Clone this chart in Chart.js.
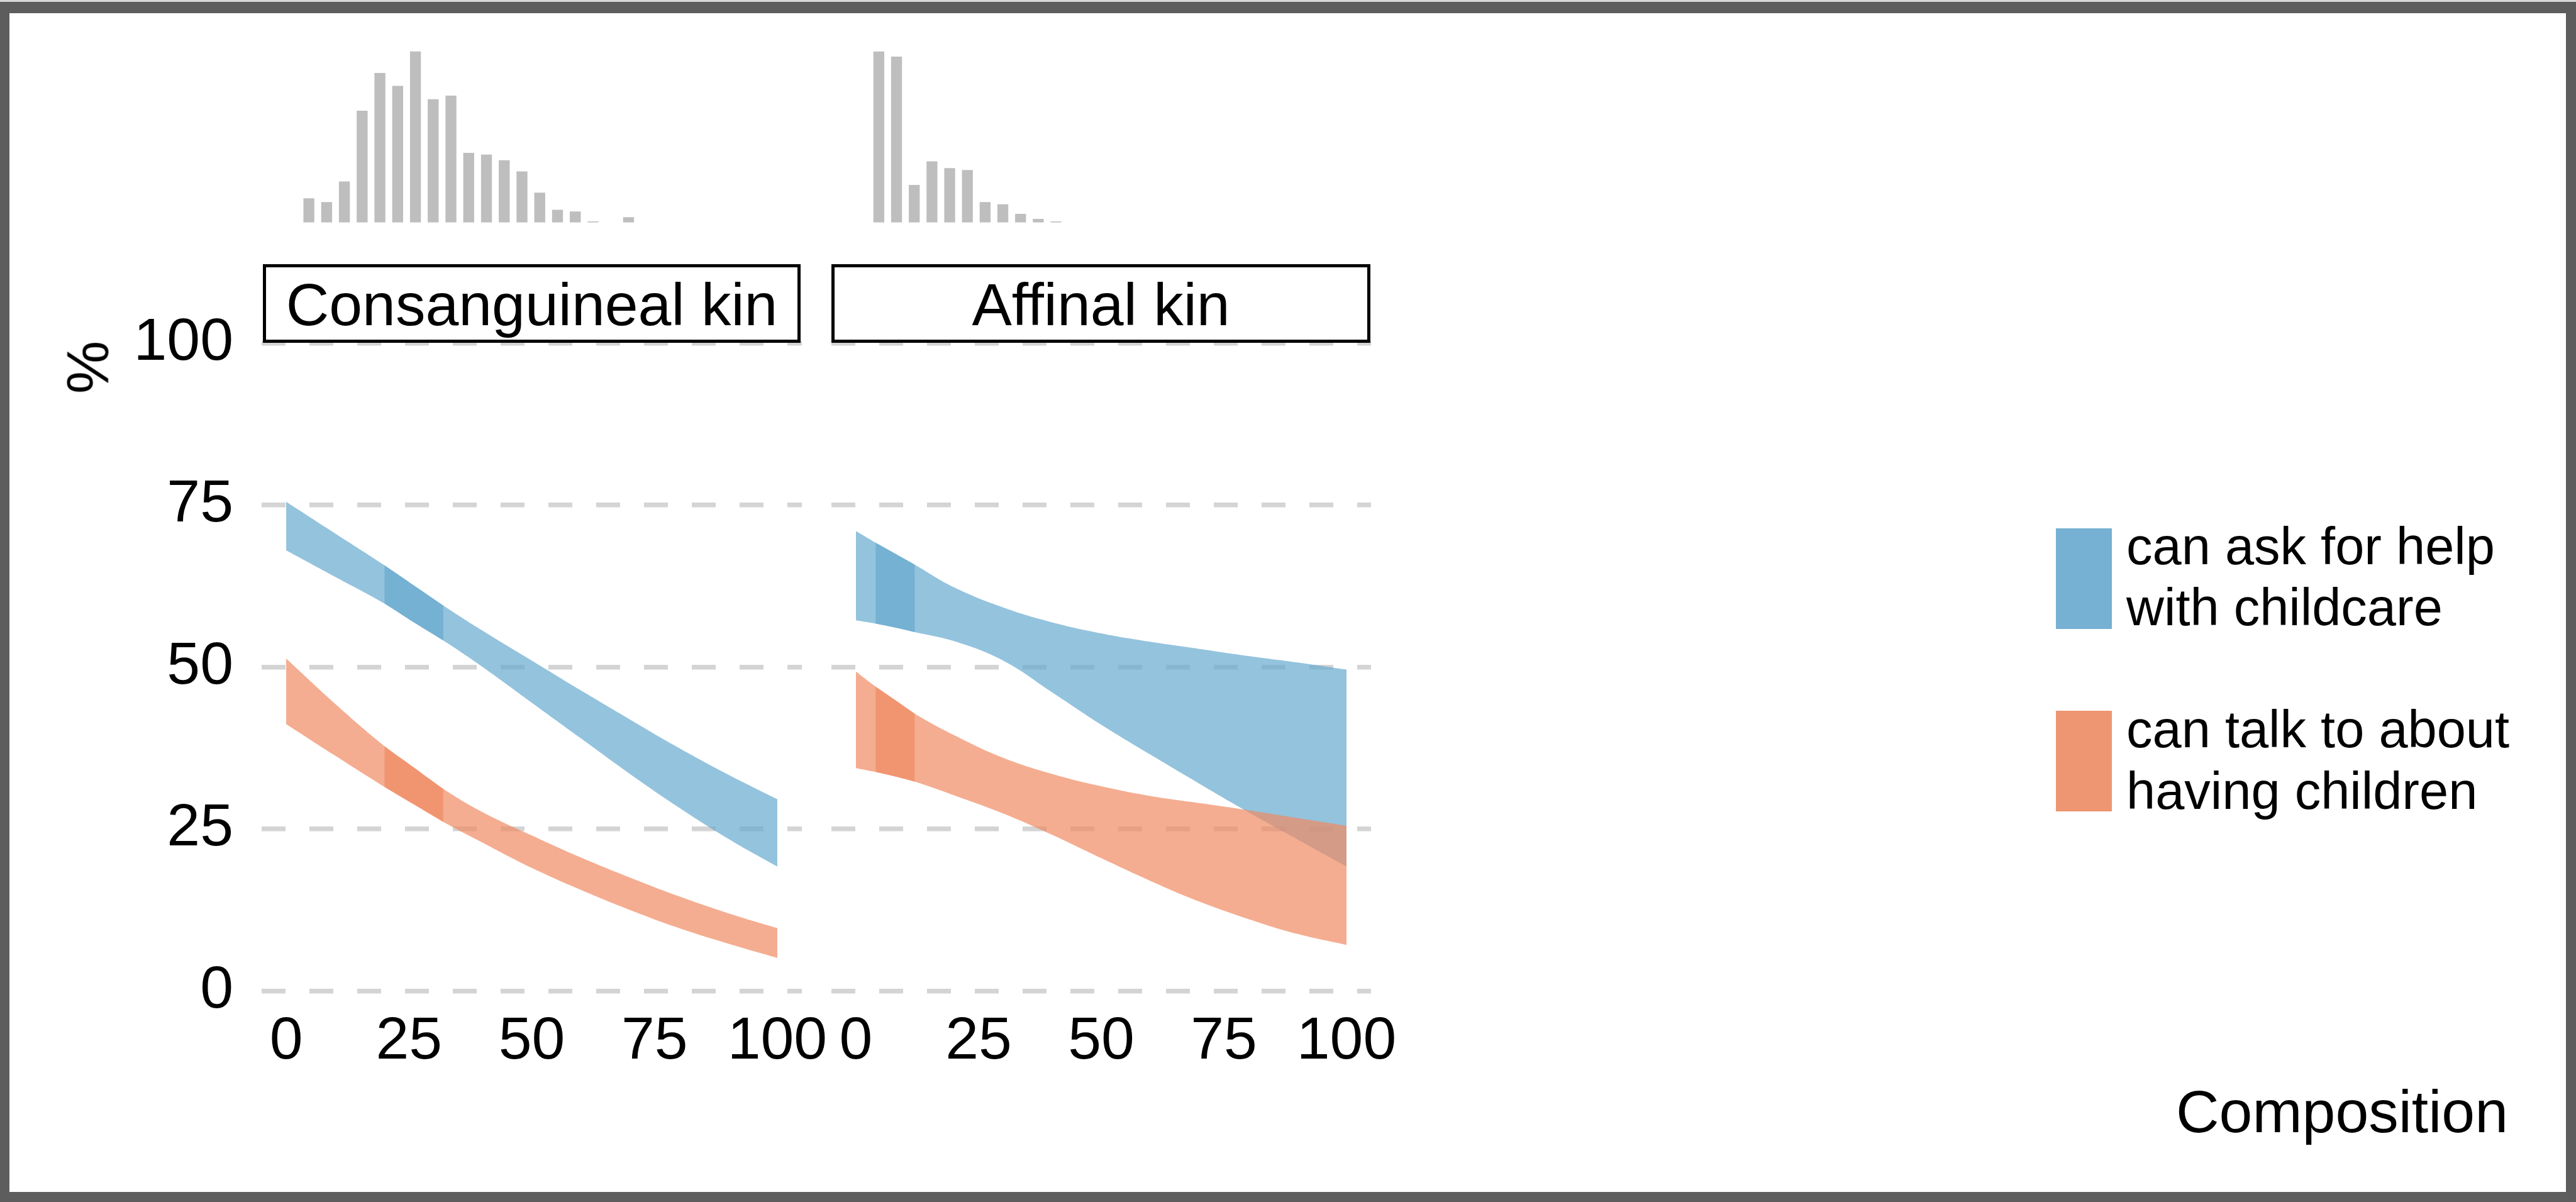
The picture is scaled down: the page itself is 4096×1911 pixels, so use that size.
<!DOCTYPE html>
<html>
<head>
<meta charset="utf-8">
<title>Childcare help and talking about children by network composition</title>
<script src="https://cdn.jsdelivr.net/npm/chart.js@4.4.1/dist/chart.umd.min.js"></script>
<style>
  html, body { margin: 0; padding: 0; background: #fff; }
  #page { position: relative; width: 4096px; height: 1911px; overflow: hidden; background: #fff;
          font-family: "Liberation Sans", Arial, Helvetica, sans-serif; color: #000; }
  #page canvas { position: absolute; left: 0; top: 0; }
  .frame { position: absolute; left: 0; top: 0; width: 4096px; height: 1911px; box-sizing: border-box;
           border-style: solid; border-color: #5d5d5d; border-width: 21px 16px 16px 15px; }
  .frameTop { position: absolute; left: 0; top: 0; width: 4096px; height: 3px; background: #d6d6d6; }
  .txt { position: absolute; white-space: nowrap; }
  .strip { position: absolute; box-sizing: border-box; border: 5px solid #000; background: #fff; }
  .key { position: absolute; }
</style>
</head>
<body>
<div id="page">
  <div class="frame"></div>
  <div class="frameTop"></div>
  <canvas id="panelCons" width="4096" height="1911"></canvas>
  <canvas id="panelAff" width="4096" height="1911"></canvas>
  <canvas id="histCons" width="4096" height="1911"></canvas>
  <canvas id="histAff" width="4096" height="1911"></canvas>
</div>
<script>
// ---------- data ----------
// composition (%) at which the fitted bands are drawn
const consX = [0, 10, 20, 26, 32, 40, 50, 60, 70, 80, 90, 100];
const consHelpUpper = [75.5, 70.6, 65.7, 62.6, 59.5, 55.6, 51.0, 46.4, 41.9, 37.5, 33.4, 29.6];
const consHelpLower = [68.0, 63.9, 59.8, 56.9, 54.1, 50.0, 44.5, 39.0, 33.5, 28.3, 23.5, 19.2];
const consTalkUpper = [51.3, 44.3, 37.8, 34.5, 31.2, 27.6, 24.0, 20.6, 17.5, 14.6, 12.0, 9.7];
const consTalkLower = [41.2, 36.3, 31.5, 28.8, 26.1, 22.9, 19.0, 15.6, 12.5, 9.7, 7.3, 5.1];
const consCoreRange = [20, 32];

const affX = [0, 4, 8, 12, 20, 30, 40, 50, 60, 70, 80, 90, 100];
const affHelpUpper = [71.0, 69.2, 67.5, 65.8, 62.3, 59.2, 56.9, 55.2, 53.9, 52.8, 51.7, 50.7, 49.6];
const affHelpLower = [57.2, 56.7, 56.1, 55.4, 54.0, 51.0, 46.1, 41.1, 36.5, 32.0, 27.6, 23.4, 19.2];
const affTalkUpper = [49.3, 47.0, 44.9, 42.8, 39.5, 36.0, 33.5, 31.6, 30.1, 29.0, 27.9, 26.7, 25.5];
const affTalkLower = [34.4, 33.8, 33.1, 32.3, 30.2, 27.4, 24.1, 20.5, 17.0, 13.8, 11.1, 8.8, 7.1];
const affCoreRange = [4, 12];

// distribution of composition (relative frequency, tallest bin = 100)
const consHist = [14.1, 11.9, 24.0, 65.3, 87.4, 79.8, 100, 72.0, 74.1, 40.7, 39.7, 36.4, 29.8, 17.4, 7.4, 6.4, 0.6, 0, 3.1];
const affHist = [99.9, 96.9, 21.9, 35.7, 31.8, 30.7, 11.9, 10.6, 5.0, 2.1, 0.6];

const xTickValues = [0, 25, 50, 75, 100];
const yTickValues = [0, 25, 50, 75, 100];
const panelTitles = ['Consanguineal kin', 'Affinal kin'];
const seriesNames = [['can ask for help', 'with childcare'], ['can talk to about', 'having children']];
const yTitle = '%';
const xTitle = 'Composition';

// ---------- style ----------
const FONT = '"Liberation Sans", Arial, Helvetica, sans-serif';
const W = 4096, H = 1911;
const helpFill = 'rgba(103,169,207,0.7)';
const talkFill = 'rgba(239,138,98,0.7)';
const helpKey = 'rgb(118,176,211)';
const talkKey = 'rgb(238,149,113)';
const gridColor = '#d4d4d4';
const histColor = '#bebebe';

const plotTop = 494, plotBottom = 1596.1;       // pixel rows of y = 105 and y = -2
const panels = [
  { id: 'panelCons', left: 416, right: 1275, showY: true },
  { id: 'panelAff', left: 1322, right: 2180, showY: false }
];

Chart.defaults.font.family = FONT;

function band(xs, upper, lower, color, order, range) {
  let idx = xs.map((_, i) => i);
  if (range) idx = idx.filter(i => xs[i] >= range[0] && xs[i] <= range[1]);
  const pts = arr => idx.map(i => ({ x: xs[i], y: arr[i] }));
  const common = { borderWidth: 0, pointRadius: 0, pointHoverRadius: 0,
                   tension: 0.4, order: order, backgroundColor: color };
  return [
    Object.assign({}, common, { data: pts(upper), fill: '+1' }),
    Object.assign({}, common, { data: pts(lower), fill: false })
  ];
}

function panelChart(geom, xs, helpU, helpL, talkU, talkL, core) {
  const datasets = [].concat(
    band(xs, talkU, talkL, talkFill, 1, core),
    band(xs, helpU, helpL, helpFill, 2, core),
    band(xs, talkU, talkL, talkFill, 3, null),
    band(xs, helpU, helpL, helpFill, 4, null)
  );
  return new Chart(document.getElementById(geom.id), {
    type: 'line',
    data: { datasets: datasets },
    options: {
      responsive: false, animation: false, devicePixelRatio: 1, events: [],
      layout: { padding: { left: 0, top: plotTop, right: W - geom.right, bottom: 0 } },
      plugins: { legend: { display: false }, tooltip: { enabled: false } },
      scales: {
        x: {
          type: 'linear', min: -5, max: 105,
          afterBuildTicks: s => { s.ticks = xTickValues.map(v => ({ value: v })); },
          afterFit: s => { s.height = H - plotBottom; },
          grid: { display: false, drawTicks: false },
          border: { display: false },
          ticks: { font: { size: 95 }, color: '#000', padding: 4, autoSkip: false, maxRotation: 0, minRotation: 0 }
        },
        y: {
          type: 'linear', min: -2, max: 105,
          afterBuildTicks: s => { s.ticks = yTickValues.map(v => ({ value: v })); },
          afterFit: s => { s.width = geom.left; },
          grid: { color: gridColor, lineWidth: 7.5, drawTicks: false },
          border: { display: false, dash: [38, 38] },
          ticks: { display: geom.showY, font: { size: 95 }, color: '#000', padding: 45 }
        }
      }
    }
  });
}

function histChart(id, counts, left, pitch) {
  const right = left + pitch * counts.length;
  return new Chart(document.getElementById(id), {
    type: 'bar',
    data: {
      labels: counts.map((_, i) => String(i + 1)),
      datasets: [{ data: counts, backgroundColor: histColor, borderWidth: 0,
                   barPercentage: 0.615, categoryPercentage: 1 }]
    },
    options: {
      responsive: false, animation: false, devicePixelRatio: 1, events: [],
      layout: { padding: { left: left, right: W - right, top: 81.6, bottom: H - 353.7 } },
      plugins: { legend: { display: false }, tooltip: { enabled: false } },
      scales: { x: { display: false }, y: { display: false, min: 0, max: 100 } }
    }
  });
}

panelChart(panels[0], consX, consHelpUpper, consHelpLower, consTalkUpper, consTalkLower, consCoreRange);
panelChart(panels[1], affX, affHelpUpper, affHelpLower, affTalkUpper, affTalkLower, affCoreRange);
histChart('histCons', consHist, 477, 28.24);
histChart('histAff', affHist, 1383.3, 28.17);

// ---------- text, strips and legend ----------
const page = document.getElementById('page');
const ASC = 0.8464; // baseline offset (em) for a line box of height 1em

function addText(str, size, baseline, opts) {
  const d = document.createElement('div');
  d.className = 'txt';
  d.textContent = str;
  d.style.fontSize = size + 'px';
  d.style.lineHeight = size + 'px';
  d.style.top = (baseline - ASC * size) + 'px';
  if (opts.left != null) d.style.left = opts.left + 'px';
  if (opts.right != null) d.style.right = opts.right + 'px';
  page.appendChild(d);
  return d;
}

// facet strips
const stripGeom = [{ left: 418, width: 855 }, { left: 1322, width: 857 }];
panelTitles.forEach((t, i) => {
  const s = document.createElement('div');
  s.className = 'strip';
  s.style.left = stripGeom[i].left + 'px';
  s.style.top = '420px';
  s.style.width = stripGeom[i].width + 'px';
  s.style.height = '125px';
  const label = document.createElement('div');
  label.className = 'txt';
  label.textContent = t;
  label.style.left = '0'; label.style.right = '0'; label.style.textAlign = 'center';
  label.style.fontSize = '95px'; label.style.lineHeight = '95px';
  label.style.top = (517 - 425 - ASC * 95) + 'px';
  s.appendChild(label);
  page.appendChild(s);
});

// y-axis title, rotated
const yt = document.createElement('div');
yt.className = 'txt';
yt.textContent = yTitle;
yt.style.fontSize = '95px'; yt.style.lineHeight = '95px';
yt.style.left = '138.6px'; yt.style.top = '584px';
yt.style.transform = 'translate(-50%, -50%) rotate(-90deg)';
page.appendChild(yt);

// x-axis title
addText(xTitle, 95, 1800, { right: 108 });

// legend
const keyColors = [helpKey, talkKey];
const keyTops = [840, 1130];
const lineBaselines = [[897, 994], [1188, 1286]];
seriesNames.forEach((lines, i) => {
  const k = document.createElement('div');
  k.className = 'key';
  k.style.left = '3269px'; k.style.top = keyTops[i] + 'px';
  k.style.width = '89px'; k.style.height = '160px';
  k.style.background = keyColors[i];
  page.appendChild(k);
  lines.forEach((ln, j) => addText(ln, 83, lineBaselines[i][j], { left: 3381 }));
});
</script>
</body>
</html>
